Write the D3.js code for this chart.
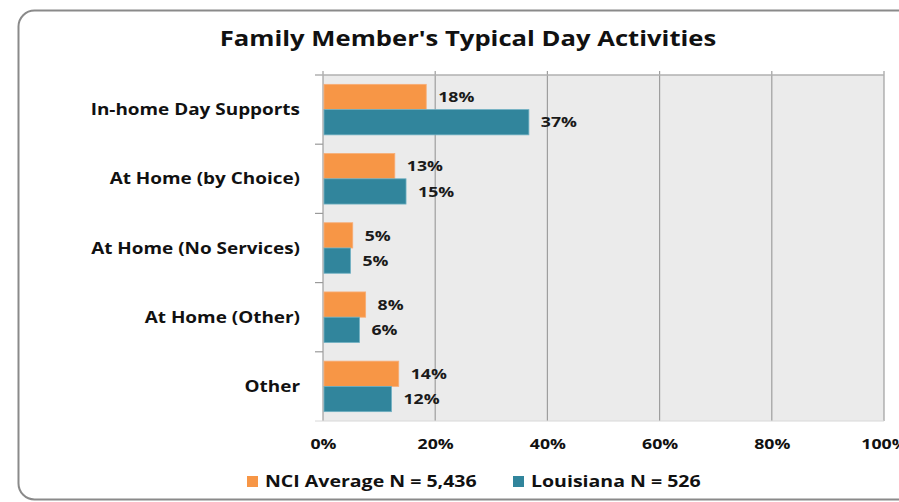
<!DOCTYPE html>
<html><head><meta charset="utf-8">
<script src="https://cdn.jsdelivr.net/npm/d3@7"></script>
<style>body{margin:0;background:#fff;} svg{display:block;font-family:"Open Sans",sans-serif;}</style>
</head><body>
<svg id="c" width="899" height="502"></svg>
<script>
const categories = ["In-home Day Supports","At Home (by Choice)","At Home (No Services)","At Home (Other)","Other"];
const nciValues = [18.4, 12.8, 5.3, 7.6, 13.5];
const laValues = [36.7, 14.8, 4.9, 6.5, 12.2];
const nciLabels = ["18%","13%","5%","8%","14%"];
const laLabels = ["37%","15%","5%","6%","12%"];
const seriesNames = ["NCI Average N = 5,436","Louisiana N = 526"];
const xTicks = [0,20,40,60,80,100];
const colors = ["#F79646","#31859C"];

(function(){
const svg = d3.select("#c");
svg.append("rect").attr("x",18.5).attr("y",10.5).attr("width",900).attr("height",489)
  .attr("rx",16).attr("fill","#fff").attr("stroke","#8a8a8a").attr("stroke-width",2);

const pL=323, pR=884, pT=75, pB=421;
const x = d3.scaleLinear().domain([0,100]).range([pL,pR]);
const y = d3.scaleBand().domain(categories).range([pT,pB]).paddingInner(0.27).paddingOuter(0.135);
const sub = d3.scaleBand().domain([0,1]).range([0,y.bandwidth()]);

svg.append("rect").attr("x",pL).attr("y",pT).attr("width",pR-pL).attr("height",pB-pT).attr("fill","#EBEBEB");

svg.append("g").selectAll("line").data(xTicks).join("line")
  .attr("x1",d=>x(d)).attr("x2",d=>x(d)).attr("y1",pT-4).attr("y2",pB)
  .attr("stroke","#9e9e9e").attr("stroke-width",1.2);
svg.append("line").attr("x1",pL-8).attr("x2",pR).attr("y1",pT).attr("y2",pT).attr("stroke","#b0b0b0").attr("stroke-width",1.5);
svg.append("line").attr("x1",pL-8).attr("x2",pR).attr("y1",pB).attr("y2",pB).attr("stroke","#d8d8d8").attr("stroke-width",1);
const bounds = categories.map((c,i)=> pT + i*(pB-pT)/categories.length).slice(1);
svg.append("g").selectAll("line").data(bounds).join("line")
  .attr("x1",pL-8).attr("x2",pL).attr("y1",d=>d).attr("y2",d=>d).attr("stroke","#9a9a9a").attr("stroke-width",1.2);

const series = [nciValues, laValues];
const labels = [nciLabels, laLabels];
series.forEach((vals,si)=>{
  const g = svg.append("g");
  g.selectAll("rect").data(vals).join("rect")
    .attr("x",x(0)+1).attr("y",(d,i)=>y(categories[i])+sub(si))
    .attr("width",d=>x(d)-x(0)-1).attr("height",sub.bandwidth())
    .attr("fill",colors[si]).attr("stroke",si===0?"#f8ad76":"#6fb0c2").attr("stroke-width",0.8);
  g.selectAll("text").data(vals).join("text")
    .attr("x",d=>x(d)+12).attr("y",(d,i)=>y(categories[i])+sub(si)+sub.bandwidth()/2)
    .attr("dy","0.36em").attr("font-size",14.5).attr("font-weight",700).attr("fill","#1a1a1a")
    .text((d,i)=>labels[si][i]);
});

svg.append("g").selectAll("text").data(categories).join("text")
  .attr("x",300).attr("y",d=>y(d)+y.bandwidth()/2).attr("dy","0.36em")
  .attr("text-anchor","end").attr("font-size",15.5).attr("font-weight",700).attr("fill","#111")
  .text(d=>d);

const xAxis = d3.axisBottom(x).tickValues(xTicks).tickFormat(d=>d+"%").tickSize(0).tickPadding(0);
const ax = svg.append("g").attr("transform",`translate(0,${pB+23})`).call(xAxis);
ax.select(".domain").remove();
ax.selectAll("text").attr("font-size",14.5).attr("font-weight",700).attr("fill","#111")
  .attr("font-family","'Open Sans',sans-serif").attr("dy","0.36em").attr("y",0);

svg.append("text").attr("x",468).attr("y",46).attr("text-anchor","middle")
  .attr("font-size",21).attr("font-weight",700).attr("fill","#111")
  .text("Family Member's Typical Day Activities");

const legX = [247, 513];
seriesNames.forEach((n,i)=>{
  svg.append("rect").attr("x",legX[i]).attr("y",476).attr("width",11).attr("height",11).attr("fill",colors[i]);
  svg.append("text").attr("x",legX[i]+18).attr("y",481.5).attr("dy","0.36em")
    .attr("font-size",16).attr("font-weight",700).attr("fill","#111").text(n);
});

// horizontal stretch of glyphs to match reference's wide lettering
svg.selectAll("text").each(function(){
  const len = this.getComputedTextLength();
  d3.select(this).attr("textLength", len*1.22).attr("lengthAdjust","spacingAndGlyphs");
});
})();
</script>
</body></html>
